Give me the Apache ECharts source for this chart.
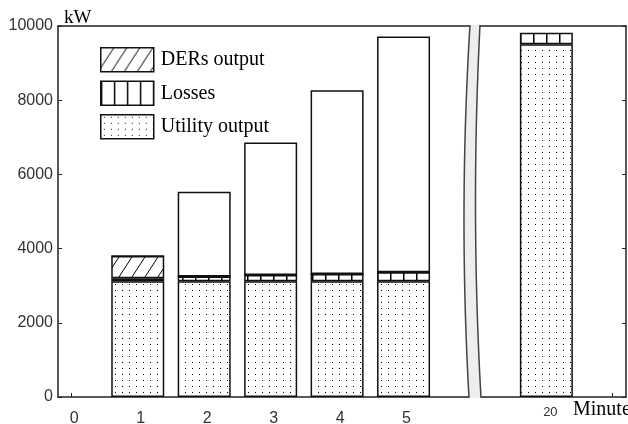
<!DOCTYPE html>
<html>
<head>
<meta charset="utf-8">
<script src="https://cdn.jsdelivr.net/npm/echarts@6/dist/echarts.min.js"></script>
<style>
  html, body { margin: 0; padding: 0; background: #fff; }
  #chart { width: 628px; height: 424px; }
</style>
</head>
<body>
<div id="chart"></div>
<script>
// minutes shown left of the axis break
const minutesLeft = [1, 2, 3, 4, 5];
const utilityLeft = [3120, 3120, 3120, 3120, 3120];
const lossesLeft = [80, 125, 170, 195, 240];
const dersLeft = [600, 0, 0, 0, 0];
const totalLeft = [3800, 5530, 6860, 8270, 9720];

// minutes shown right of the break
const minutesRight = [20];
const utilityRight = [9510];
const lossesRight = [310];

const xTicksLeft = [0, 1, 2, 3, 4, 5];
const xTicksRight = [20, 21];
const xLabelsRight = [20];
const legendNames = ['DERs output', 'Losses', 'Utility output'];

// remaining (unfilled) part of each bar up to the total
const restLeft = totalLeft.map((t, i) =>
  Math.max(0, t - utilityLeft[i] - lossesLeft[i] - dersLeft[i]));

// value first, minute second: keeps the stack on the y dimension
function pairs(xs, ys) {
  return xs.map((x, i) => [ys[i], x]);
}

function makePattern(w, h, draw) {
  const c = document.createElement('canvas');
  c.width = w;
  c.height = h;
  const ctx = c.getContext('2d');
  ctx.fillStyle = '#fff';
  ctx.fillRect(0, 0, w, h);
  draw(ctx);
  return { image: c, repeat: 'repeat' };
}

const dotPattern = makePattern(7, 6, ctx => {
  ctx.fillStyle = '#000';
  ctx.fillRect(3, 2, 1, 1);
});
const linePattern = makePattern(13, 4, ctx => {
  ctx.fillStyle = '#000';
  ctx.fillRect(0, 0, 1.5, 4);
});
const hatchPattern = makePattern(13, 20, ctx => {
  ctx.strokeStyle = '#000';
  ctx.lineWidth = 1;
  [-13, 0, 13].forEach(dx => {
    ctx.beginPath();
    ctx.moveTo(dx, 20);
    ctx.lineTo(dx + 13, 0);
    ctx.stroke();
  });
});

const border = { borderColor: '#111', borderWidth: 1.5 };
const axisLine = { show: true, onZero: false, lineStyle: { color: '#222', width: 1.5 } };
const encode = { x: 1, y: 0 };

// axis break band (decoration)
function curvePoints(x0, xc, x1, y0, y1, n) {
  const pts = [];
  for (let i = 0; i <= n; i++) {
    const t = i / n;
    const x = (1 - t) * (1 - t) * x0 + 2 * t * (1 - t) * xc + t * t * x1;
    const y = y0 + (y1 - y0) * t;
    pts.push([x, y]);
  }
  return pts;
}
const leftEdge = curvePoints(470, 458.5, 469, 25, 398, 30);
const rightEdge = curvePoints(480, 470.5, 481, 25, 398, 30);

function barSeries(name, stack, axisIdx, color, data) {
  return {
    name: name, type: 'bar', stack: stack,
    xAxisIndex: axisIdx * 2, yAxisIndex: axisIdx, barWidth: 53,
    encode: encode,
    itemStyle: Object.assign({ color: color }, border),
    data: data
  };
}

const chart = echarts.init(document.getElementById('chart'));

const option = {
  animation: false,
  backgroundColor: '#fff',
  textStyle: { fontFamily: 'Liberation Sans' },
  grid: [
    { left: 58, top: 26, width: 412, bottom: 27, outerBoundsMode: 'none', containLabel: false },
    { left: 480, top: 26, width: 146, bottom: 27, outerBoundsMode: 'none', containLabel: false }
  ],
  legend: {
    data: legendNames,
    orient: 'vertical',
    left: 100,
    top: 47,
    padding: 0,
    itemWidth: 53,
    itemHeight: 24,
    itemGap: 8,
    icon: 'rect',
    selectedMode: false,
    itemStyle: { borderColor: '#111', borderWidth: 1.5 },
    textStyle: {
      fontFamily: 'Liberation Serif',
      fontSize: 20,
      color: '#000',
      padding: [0, 0, 0, 2]
    }
  },
  xAxis: [
    {
      type: 'value', gridIndex: 0, position: 'bottom',
      min: -0.2, max: 6,
      axisLine: axisLine,
      axisTick: { inside: true, length: 4, customValues: xTicksLeft, lineStyle: { color: '#222' } },
      axisLabel: {
        customValues: xTicksLeft, margin: 14, fontSize: 16, color: '#333',
        padding: [0, 0, 0, 6]
      },
      splitLine: { show: false }
    },
    {
      type: 'value', gridIndex: 0, position: 'top',
      min: -0.2, max: 6,
      axisLine: axisLine,
      axisTick: { show: false },
      axisLabel: { show: false },
      splitLine: { show: false }
    },
    {
      type: 'value', gridIndex: 1, position: 'bottom',
      min: 19, max: 21.2,
      axisLine: axisLine,
      axisTick: { inside: true, length: 4, customValues: xTicksRight, lineStyle: { color: '#222' } },
      axisLabel: {
        customValues: xLabelsRight, margin: 9, fontSize: 13, color: '#333',
        padding: [0, 0, 0, 8]
      },
      splitLine: { show: false }
    },
    {
      type: 'value', gridIndex: 1, position: 'top',
      min: 19, max: 21.2,
      axisLine: axisLine,
      axisTick: { show: false },
      axisLabel: { show: false },
      splitLine: { show: false }
    }
  ],
  yAxis: [
    {
      type: 'value', gridIndex: 0, position: 'left',
      min: 0, max: 10000, interval: 2000,
      axisLine: axisLine,
      axisTick: { show: true, inside: true, length: 4, lineStyle: { color: '#222' } },
      axisLabel: { margin: 5, fontSize: 16, color: '#333', formatter: v => String(v) },
      splitLine: { show: false }
    },
    {
      type: 'value', gridIndex: 1, position: 'right',
      min: 0, max: 10000, interval: 2000,
      axisLine: axisLine,
      axisTick: { show: true, inside: true, length: 4, lineStyle: { color: '#222' } },
      axisLabel: { show: false },
      splitLine: { show: false }
    }
  ],
  series: [
    barSeries('Utility output', 'left', 0, dotPattern, pairs(minutesLeft, utilityLeft)),
    barSeries('Losses', 'left', 0, linePattern, pairs(minutesLeft, lossesLeft)),
    barSeries('DERs output', 'left', 0, hatchPattern, pairs(minutesLeft, dersLeft)),
    barSeries('rest', 'left', 0, '#fff', pairs(minutesLeft, restLeft)),
    barSeries('Utility output', 'right', 1, dotPattern, pairs(minutesRight, utilityRight)),
    barSeries('Losses', 'right', 1, linePattern, pairs(minutesRight, lossesRight))
  ],
  graphic: [
    {
      type: 'polygon', z: 100,
      shape: { points: leftEdge.concat(rightEdge.slice().reverse()) },
      style: { fill: '#eeeeee', stroke: null }
    },
    {
      type: 'polyline', z: 101,
      shape: { points: leftEdge },
      style: { stroke: '#444', lineWidth: 1.5, fill: null }
    },
    {
      type: 'polyline', z: 101,
      shape: { points: rightEdge },
      style: { stroke: '#444', lineWidth: 1.5, fill: null }
    },
    {
      type: 'text', left: 64, top: 9, z: 101,
      style: { text: 'kW', font: '19px "Liberation Serif"', fill: '#000' }
    },
    {
      type: 'text', left: 573, top: 400, z: 101,
      style: { text: 'Minute', font: '20px "Liberation Serif"', fill: '#000' }
    }
  ]
};

chart.setOption(option);
</script>
</body>
</html>
